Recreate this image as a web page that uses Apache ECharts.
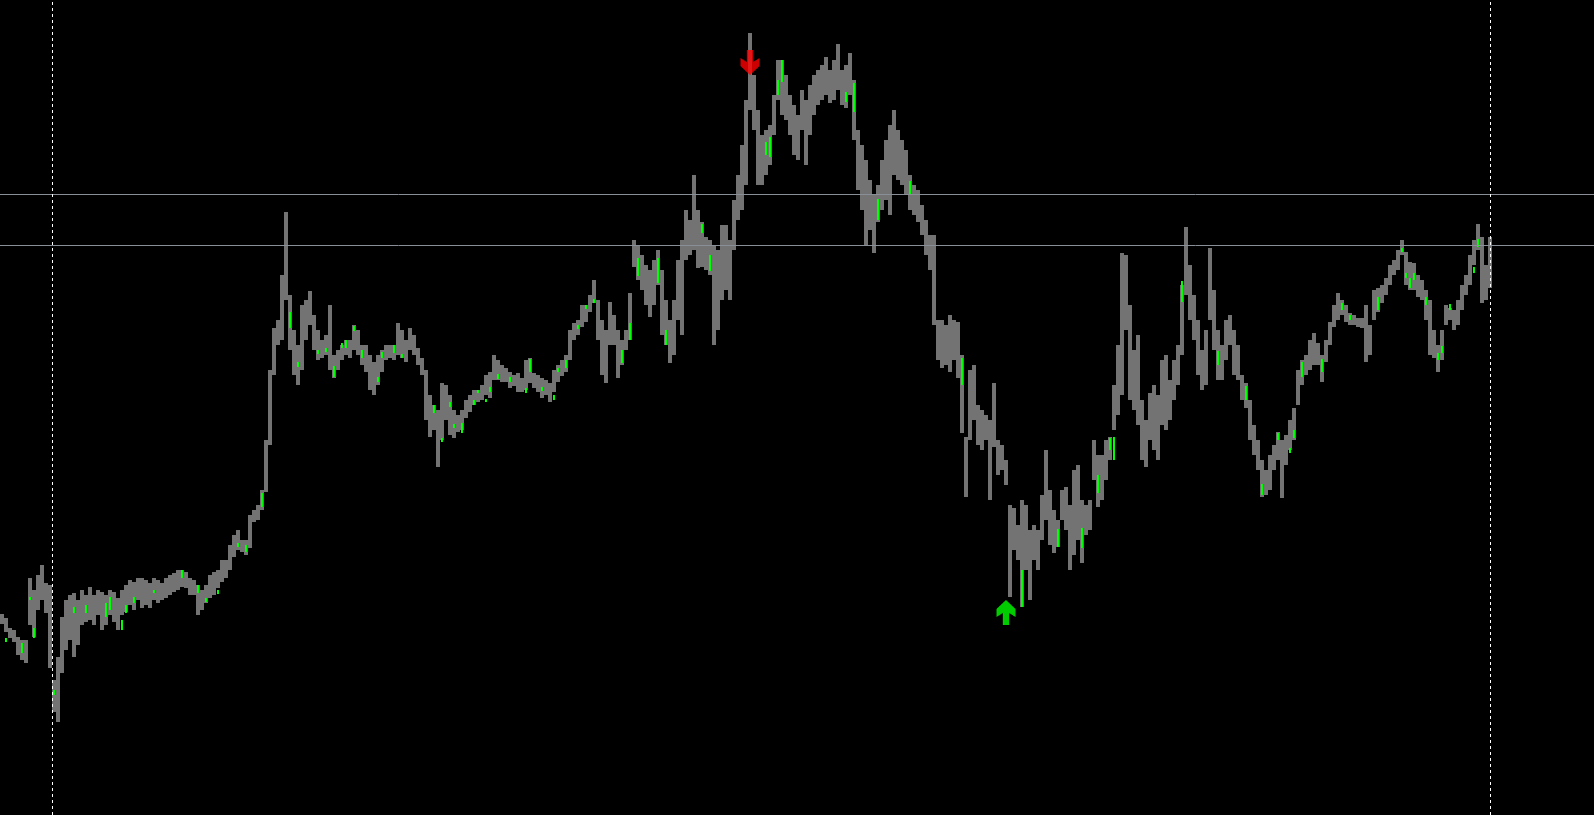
<!DOCTYPE html>
<html><head><meta charset="utf-8">
<script src="https://cdn.jsdelivr.net/npm/echarts@6/dist/echarts.min.js"></script>
<style>html,body{margin:0;padding:0;background:#000;overflow:hidden}#c{width:1594px;height:815px}</style>
</head><body><div id="c"></div>
<script>
// Bar highs / lows (price points), one entry per bar group
const highs = [
201,197,187,185,178,175,175,237,225,240,250,232,230,
135,158,198,215,220,222,215,225,220,228,220,225,
223,220,225,223,217,225,230,235,233,237,237,235,
232,237,235,232,237,240,242,245,245,243,237,235,
230,225,230,240,243,245,255,255,270,280,285,275,
275,300,305,310,325,375,445,487,495,540,603,520,
485,470,510,515,524,500,485,475,480,510,460,465,
470,475,475,490,485,470,470,460,453,460,465,470,
470,470,492,485,475,487,480,467,457,445,420,410,
405,432,430,420,405,400,405,415,420,425,425,430,
440,443,460,455,450,447,443,440,442,437,455,457,
442,440,437,435,432,445,450,455,460,485,492,495,
510,510,520,535,515,495,485,513,500,485,475,485,
522,575,570,560,550,545,555,565,545,515,495,515,
555,575,605,595,640,605,593,578,575,570,565,590,
590,575,615,640,670,715,782,740,705,680,685,690,
720,755,755,740,720,710,700,725,715,730,740,745,
750,758,745,755,771,745,750,762,735,685,670,655,
635,620,630,655,675,690,705,685,675,665,640,630,
625,610,595,580,580,495,495,490,500,495,493,460,
378,445,450,410,405,400,395,432,375,370,355,310,
307,290,315,310,285,290,285,320,365,325,305,295,
325,328,310,345,350,315,310,315,375,360,360,375,
378,430,470,562,560,510,465,480,415,395,422,430,
420,455,460,435,455,470,530,588,550,520,495,465,
485,567,525,485,470,495,500,485,470,440,432,415,
390,375,355,345,360,370,383,375,380,395,407,445,
455,460,475,482,472,460,475,493,510,522,515,510,
502,500,497,497,510,490,525,527,530,537,550,555,
565,575,563,553,552,540,535,525,515,485,470,485,
510,507,505,515,530,540,560,575,591,578,550,578
];
const lows = [
191,183,177,173,160,155,152,190,178,205,215,202,147,
103,93,142,165,175,158,170,190,193,195,190,200,
185,190,200,193,185,200,203,210,205,215,207,210,
207,215,212,215,217,220,223,225,228,227,220,220,
200,205,212,217,220,227,233,237,245,258,265,263,
260,267,293,295,305,323,370,440,470,475,515,465,
440,430,445,475,490,465,455,457,460,445,437,445,
455,460,457,465,460,450,443,425,420,430,443,455,
457,455,460,457,453,465,460,450,440,395,378,385,
348,375,395,380,377,383,385,397,403,410,413,415,
420,417,435,435,433,433,427,429,423,423,425,432,
427,423,417,420,413,423,433,439,443,455,475,480,
488,493,503,512,475,440,432,470,470,437,450,465,
475,548,535,525,510,498,510,530,480,470,452,460,
495,480,555,560,565,547,548,545,540,470,485,515,
525,515,565,595,605,630,705,685,630,630,640,650,
680,715,700,695,680,660,655,685,650,680,700,710,
715,720,712,715,725,710,707,720,675,625,605,570,
585,562,593,605,615,600,640,635,630,620,605,600,
593,580,560,545,490,455,447,450,443,455,437,382,
318,375,395,370,365,375,315,368,340,345,330,218,
265,255,208,245,215,255,245,275,295,270,262,268,
295,285,245,260,275,252,280,285,335,308,315,335,
355,385,400,420,485,415,405,390,355,348,375,365,
355,390,385,395,415,430,460,520,495,475,440,425,
430,495,465,435,435,455,470,440,435,415,407,375,
360,345,318,320,325,345,355,317,350,365,375,410,
430,440,445,450,450,433,453,470,488,495,500,493,
490,490,488,487,453,460,495,503,512,520,530,540,
545,560,530,525,525,518,515,495,460,457,443,455,
490,495,485,490,505,520,530,550,565,512,515,527
];
// Highlighted (green) bars: bar index, high, low
const greenIdx = [1,5,7,8,13,18,21,26,27,30,31,33,38,45,49,51,54,59,61,65,72,74,79,81,83,85,86,88,90,94,95,98,100,108,110,112,113,115,118,119,121,122,124,127,131,132,135,138,139,141,144,146,148,155,157,159,164,166,175,177,191,192,194,195,211,213,219,227,240,255,264,270,274,277,278,295,304,311,315,319,322,323,325,330,335,337,344,350,351,352,353,356,359,360,362,368,369];
const greenHigh = [177,172,218,187,125,208,210,212,218,195,210,218,225,245,230,217,225,272,270,322,503,453,465,467,449,472,475,489,465,438,463,470,461,410,377,413,391,392,415,425,416,428,441,438,427,456,428,420,447,455,490,510,516,465,492,557,557,485,591,560,673,678,735,755,723,732,616,634,457,245,286,287,340,377,378,534,464,429,331,382,367,385,453,456,512,500,518,567,542,537,542,518,462,469,511,548,576];
const greenLow = [173,162,215,177,120,202,202,198,205,185,202,212,222,237,222,213,221,268,263,308,487,448,461,463,438,467,467,484,457,433,457,462,457,402,373,408,387,382,410,422,413,423,436,433,422,443,424,415,443,447,486,506,512,452,475,539,532,470,582,544,660,658,720,733,713,703,595,620,430,208,268,267,322,365,355,513,450,415,320,375,362,377,438,443,505,495,505,563,537,527,535,510,455,462,505,542,568];
// Horizontal level lines (price) and vertical marker lines (bar position)
const levelPrices = [621, 570];
const markerBars = [12.5, 372];
// Signals: [bar index, price]
const sellSignal = [187, 740];
const buySignal = [251, 215];

const n = Math.min(highs.length, lows.length);
const barData = [];
for (let i = 0; i < n; i++) barData.push([i, highs[i], lows[i]]);
const greenData = greenIdx.map((x, k) => [x, greenHigh[k], greenLow[k]]);

function makeRender(color, frac) {
  return function (params, api) {
    const x = api.value(0);
    const p1 = api.coord([x, api.value(1)]);
    const p2 = api.coord([x, api.value(2)]);
    const w = api.size([1, 0])[0] * frac;
    return {
      type: 'rect',
      shape: { x: Math.round(p1[0] - w / 2), y: Math.round(p1[1]), width: Math.max(1, Math.round(w)), height: Math.max(1, Math.round(p2[1] - p1[1])) },
      style: { fill: color }
    };
  };
}

const downArrow = 'path://M6,0 L12,0 L12,12 L18,8 L18,16 L9,25 L0,16 L0,8 L6,12 Z';
const upArrow = 'path://M6,25 L12,25 L12,13 L18,17 L18,9 L9,0 L0,9 L0,17 L6,13 Z';

const chart = echarts.init(document.getElementById('c'), null, { renderer: 'canvas' });
chart.setOption({
  backgroundColor: '#000000',
  animation: false,
  grid: { left: 0, right: 0, top: 0, bottom: 0 },
  xAxis: { type: 'value', min: -0.5, max: 398, show: false, splitLine: { show: false } },
  yAxis: { type: 'value', min: 0, max: 815, show: false, splitLine: { show: false } },
  series: [
    {
      type: 'custom',
      data: barData,
      renderItem: makeRender('#737373', 1),
      encode: { x: 0, y: [1, 2] },
      silent: true,
      z: 2,
      markLine: {
        silent: true,
        symbol: 'none',
        label: { show: false },
        data: [
          ...levelPrices.map(v => ({ yAxis: v, lineStyle: { color: '#8a8e96', width: 1, type: 'solid' } })),
          ...markerBars.map(v => ({ xAxis: v, lineStyle: { color: '#ffffff', width: 1, type: [3, 3] } }))
        ]
      }
    },
    {
      type: 'custom',
      data: greenData,
      renderItem: makeRender('#00ff00', 0.5),
      encode: { x: 0, y: [1, 2] },
      silent: true,
      z: 3
    },
    {
      type: 'scatter',
      data: [sellSignal],
      symbol: downArrow,
      symbolSize: [19, 25],
      symbolOffset: [0, '-50%'],
      itemStyle: { color: '#ff0000' },
      silent: true,
      z: 5
    },
    {
      type: 'scatter',
      data: [buySignal],
      symbol: upArrow,
      symbolSize: [19, 25],
      symbolOffset: [0, '50%'],
      itemStyle: { color: '#00ff00' },
      silent: true,
      z: 5
    }
  ]
});
</script>
</body></html>
